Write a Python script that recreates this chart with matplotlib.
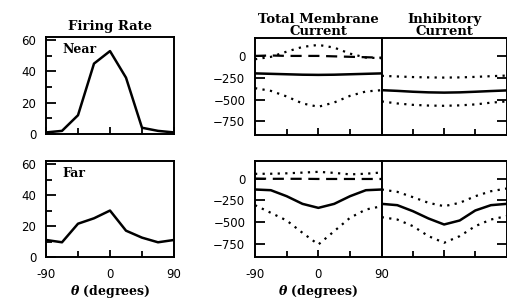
import matplotlib
matplotlib.use('Agg')
import matplotlib.pyplot as plt

plt.rcParams['mathtext.fontset'] = 'dejavuserif'

# angles (degrees)
theta = [-90, -67.5, -45, -22.5, 0, 22.5, 45, 67.5, 90]

# firing rate (spikes/s)
rate_near = [1, 2, 12, 45, 53, 36, 4, 2, 1]
rate_far = [11, 9.5, 21.5, 25, 30, 17, 12.5, 9.5, 11]

# total membrane current, near
tot_near_up = [-38, -11, 49, 103, 126, 95, 26, -19, -26]
tot_near_dash = [0, 5, 0, 0, 0, -5, -10, -15, -20]
tot_near_mid = [-200, -205, -210, -215, -217, -215, -210, -205, -200]
tot_near_lo = [-369, -400, -464, -544, -582, -533, -457, -407, -392]

# inhibitory current, near
inh_near_up = [-228, -235, -242, -246, -248, -246, -240, -232, -225]
inh_near_mid = [-392, -400, -410, -417, -420, -417, -410, -402, -395]
inh_near_lo = [-521, -544, -560, -568, -571, -566, -555, -535, -521]

# total membrane current, far
tot_far_up = [54, 55, 60, 68, 77, 65, 48, 55, 70]
tot_far_dash = [0, -3, -3, -3, -5, -5, -5, -5, -5]
tot_far_mid = [-126, -134, -203, -291, -337, -291, -203, -134, -126]
tot_far_lo = [-306, -394, -482, -624, -758, -605, -451, -356, -318]

# inhibitory current, far
inh_far_up = [-126, -153, -214, -279, -318, -279, -203, -146, -115]
inh_far_mid = [-291, -306, -375, -459, -528, -482, -367, -306, -291]
inh_far_lo = [-444, -471, -547, -662, -738, -662, -547, -471, -432]

BOLD = dict(family='DejaVu Serif', fontweight='bold')
DOT = (0, (1, 2.4))
DASH = (0, (5, 3))

fig = plt.figure(figsize=(5.07, 3.0), dpi=100)

def pos(l, t, r, b):
    return [l / 507, 1 - b / 300, (r - l) / 507, (b - t) / 300]

ax_rn = fig.add_axes(pos(46, 37, 174, 134))
ax_rf = fig.add_axes(pos(46, 161, 174, 257))
ax_tn = fig.add_axes(pos(255, 38, 381.7, 135))
ax_in = fig.add_axes(pos(381.7, 38, 506.5, 135))
ax_tf = fig.add_axes(pos(255, 160.7, 381.7, 257.3))
ax_if = fig.add_axes(pos(381.7, 160.7, 506.5, 257.3))

for ax in fig.axes:
    for s in ax.spines.values():
        s.set_linewidth(1.4)
    ax.set_xlim(-90, 90)
    ax.set_xticks([-90, 0, 90])
    ax.set_xticks([-45, 45], minor=True)
    ax.tick_params(axis='both', which='major', direction='in', length=7, width=1.3,
                   labelsize=8.5, pad=7)
    ax.tick_params(axis='both', which='minor', direction='in', length=4, width=1.3)
    ax.tick_params(axis='x', which='major', length=5, pad=8)

# firing rate panels
for ax, y, lab in [(ax_rn, rate_near, 'Near'), (ax_rf, rate_far, 'Far')]:
    ax.plot(theta, y, color='black', lw=1.8)
    ax.set_ylim(0, 62)
    ax.set_yticks([0, 20, 40, 60])
    ax.set_yticks([10, 30, 50], minor=True)
    ax.text(0.13, 0.87, lab, transform=ax.transAxes, fontsize=9, va='center', **BOLD)

# current panels
panels = [
    (ax_tn, tot_near_up, tot_near_dash, tot_near_mid, tot_near_lo),
    (ax_in, inh_near_up, None, inh_near_mid, inh_near_lo),
    (ax_tf, tot_far_up, tot_far_dash, tot_far_mid, tot_far_lo),
    (ax_if, inh_far_up, None, inh_far_mid, inh_far_lo),
]
for ax, up, dash, mid, lo in panels:
    ax.plot(theta, up, color='black', lw=1.6, linestyle=DOT)
    if dash is not None:
        ax.plot(theta, dash, color='black', lw=1.6, linestyle=DASH)
    ax.plot(theta, mid, color='black', lw=1.8)
    ax.plot(theta, lo, color='black', lw=1.6, linestyle=DOT)
    ax.set_ylim(-905, 205)
    ax.set_yticks([0, -250, -500, -750])

for ax in [ax_in, ax_if]:
    ax.yaxis.tick_right()
    ax.tick_params(axis='y', labelright=False)

for ax in [ax_rn, ax_tn, ax_in, ax_if]:
    ax.tick_params(axis='x', labelbottom=False)

ax_tf.set_xticklabels(['-90', '0', '90'])
ax_rf.set_xticklabels(['-90', '0', '90'])

for ax in [ax_rf, ax_tf]:
    ax.set_xlabel(r'$\mathbfit{\theta}$ (degrees)', fontsize=9, labelpad=1, **BOLD)

ax_rn.set_title('Firing Rate', fontsize=9.5, pad=5, **BOLD)
ax_tn.set_title('Total Membrane\nCurrent', fontsize=9.5, pad=2, linespacing=0.9, **BOLD)
ax_in.set_title('Inhibitory\nCurrent', fontsize=9.5, pad=2, linespacing=0.9, **BOLD)

fig.savefig('out.png', dpi=100)
